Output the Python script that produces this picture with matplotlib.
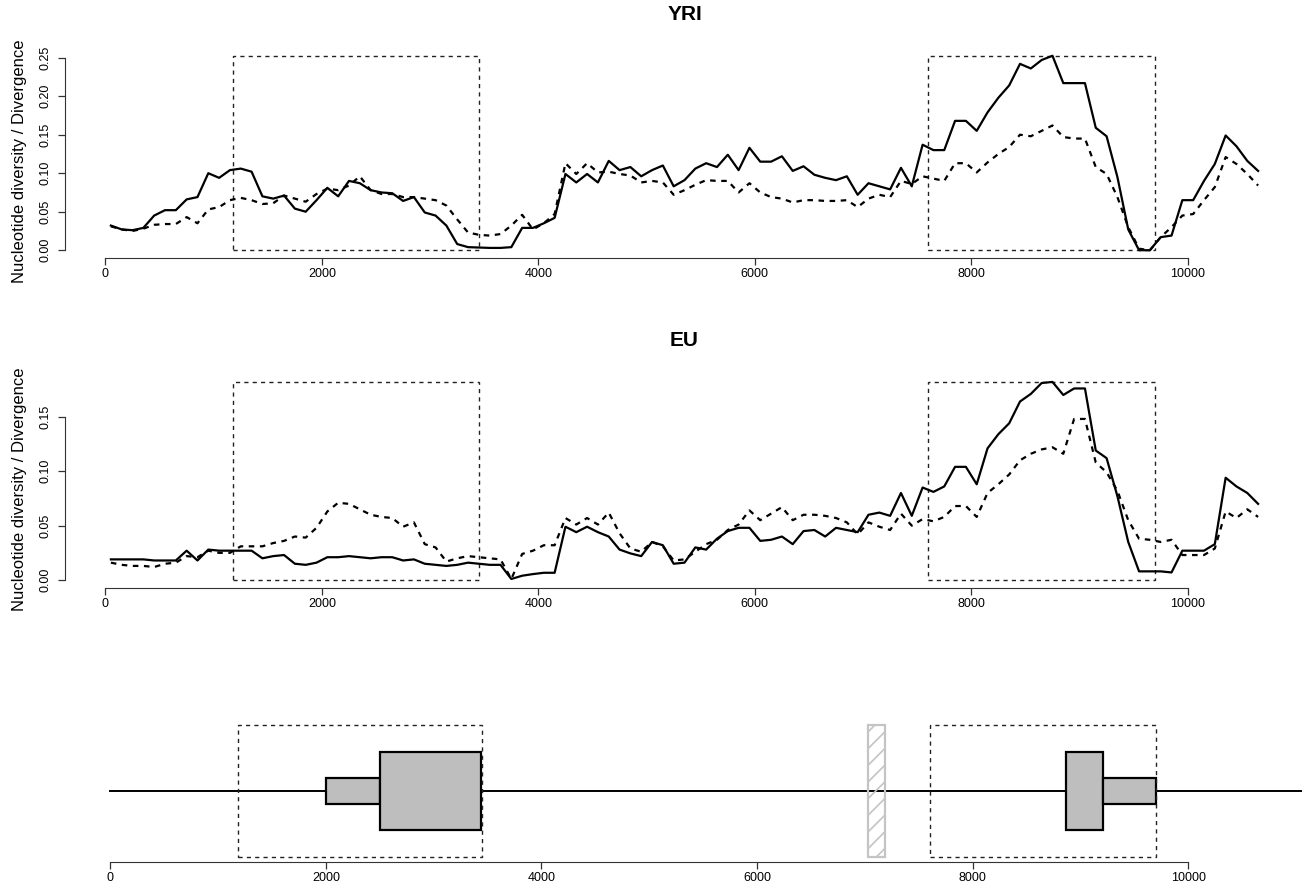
import matplotlib
matplotlib.use('Agg')
import matplotlib.pyplot as plt
from matplotlib.patches import Rectangle
from matplotlib.ticker import FormatStrFormatter

plt.rcParams['font.family'] = ['Liberation Sans', 'DejaVu Sans']
plt.rcParams['hatch.linewidth'] = 1.2

# sliding window midpoints (bp)
window_mid = list(range(50, 10700, 100))

yri_pi = [0.032, 0.027, 0.026, 0.029, 0.045, 0.052, 0.052, 0.066, 0.069, 0.100,
          0.094, 0.104, 0.106, 0.102, 0.070, 0.067, 0.071, 0.054, 0.050, 0.065,
          0.081, 0.070, 0.090, 0.087, 0.078, 0.075, 0.074, 0.064, 0.069, 0.049,
          0.045, 0.032, 0.008, 0.004, 0.0035, 0.003, 0.003, 0.004, 0.029, 0.029,
          0.035, 0.042, 0.099, 0.088, 0.099, 0.088, 0.116, 0.104, 0.108, 0.096,
          0.104, 0.110, 0.083, 0.091, 0.106, 0.113, 0.108, 0.124, 0.104, 0.133,
          0.115, 0.115, 0.122, 0.103, 0.109, 0.098, 0.094, 0.091, 0.096, 0.072,
          0.087, 0.083, 0.079, 0.107, 0.083, 0.137, 0.130, 0.130, 0.168, 0.168,
          0.155, 0.179, 0.198, 0.214, 0.242, 0.236, 0.247, 0.2525, 0.217, 0.217,
          0.217, 0.159, 0.148, 0.095, 0.027, 0.000, 0.000, 0.017, 0.019, 0.065,
          0.065, 0.090, 0.112, 0.149, 0.135, 0.116, 0.103]
yri_div = [0.031, 0.027, 0.025, 0.028, 0.033, 0.034, 0.034, 0.043, 0.035, 0.053,
           0.056, 0.065, 0.068, 0.065, 0.060, 0.061, 0.071, 0.067, 0.063, 0.073,
           0.080, 0.078, 0.084, 0.096, 0.078, 0.073, 0.073, 0.069, 0.069, 0.067,
           0.065, 0.058, 0.040, 0.023, 0.020, 0.019, 0.021, 0.032, 0.046, 0.027,
           0.035, 0.047, 0.113, 0.099, 0.113, 0.101, 0.102, 0.099, 0.097, 0.088,
           0.090, 0.088, 0.072, 0.078, 0.085, 0.091, 0.090, 0.090, 0.075, 0.087,
           0.075, 0.069, 0.067, 0.062, 0.065, 0.065, 0.064, 0.064, 0.065, 0.056,
           0.067, 0.072, 0.069, 0.090, 0.086, 0.096, 0.093, 0.090, 0.113, 0.113,
           0.101, 0.114, 0.125, 0.134, 0.150, 0.148, 0.155, 0.162, 0.147, 0.145,
           0.145, 0.108, 0.099, 0.069, 0.030, 0.002, 0.000, 0.017, 0.030, 0.045,
           0.047, 0.065, 0.082, 0.121, 0.112, 0.099, 0.084]
eu_pi = [0.019, 0.019, 0.019, 0.019, 0.018, 0.018, 0.018, 0.027, 0.018, 0.028,
         0.027, 0.027, 0.027, 0.027, 0.020, 0.022, 0.023, 0.015, 0.014, 0.016,
         0.021, 0.021, 0.022, 0.021, 0.020, 0.021, 0.021, 0.018, 0.019, 0.015,
         0.014, 0.013, 0.014, 0.016, 0.015, 0.014, 0.014, 0.001, 0.004, 0.0055,
         0.0067, 0.0067, 0.049, 0.044, 0.049, 0.044, 0.040, 0.028, 0.0245, 0.022,
         0.035, 0.032, 0.015, 0.016, 0.030, 0.028, 0.038, 0.045, 0.048, 0.048,
         0.036, 0.037, 0.040, 0.033, 0.045, 0.046, 0.040, 0.048, 0.046, 0.044,
         0.060, 0.062, 0.059, 0.080, 0.059, 0.085, 0.081, 0.086, 0.104, 0.104,
         0.088, 0.121, 0.134, 0.144, 0.164, 0.171, 0.181, 0.182, 0.170, 0.176,
         0.176, 0.119, 0.112, 0.077, 0.035, 0.008, 0.008, 0.008, 0.007, 0.027,
         0.027, 0.027, 0.033, 0.094, 0.086, 0.080, 0.070]
eu_div = [0.016, 0.014, 0.013, 0.013, 0.012, 0.015, 0.016, 0.022, 0.021, 0.027,
          0.025, 0.025, 0.031, 0.031, 0.031, 0.034, 0.036, 0.040, 0.039, 0.048,
          0.063, 0.071, 0.070, 0.065, 0.060, 0.058, 0.057, 0.049, 0.053, 0.033,
          0.030, 0.017, 0.020, 0.022, 0.021, 0.020, 0.019, 0.001, 0.024, 0.027,
          0.032, 0.032, 0.057, 0.051, 0.057, 0.051, 0.062, 0.043, 0.029, 0.026,
          0.035, 0.031, 0.018, 0.019, 0.026, 0.033, 0.037, 0.046, 0.051, 0.064,
          0.055, 0.061, 0.067, 0.055, 0.060, 0.060, 0.059, 0.057, 0.053, 0.042,
          0.053, 0.049, 0.046, 0.061, 0.050, 0.056, 0.054, 0.058, 0.068, 0.068,
          0.058, 0.080, 0.088, 0.097, 0.110, 0.116, 0.120, 0.122, 0.116, 0.148,
          0.148, 0.108, 0.099, 0.082, 0.055, 0.038, 0.037, 0.035, 0.037, 0.023,
          0.023, 0.023, 0.029, 0.063, 0.057, 0.065, 0.058]

# highlighted regions (dashed boxes)
region_start = [1180, 7600]
region_end = [3450, 9700]

# gene model
gene_span = [0, 11300]
feature_start = [2000, 2500, 8870, 9210]
feature_end = [2500, 3440, 9210, 9700]
feature_kind = ['utr', 'cds', 'cds', 'utr']
masked_start = 7030
masked_end = 7190

x_ticks = [0, 2000, 4000, 6000, 8000, 10000]
y_label = 'Nucleotide diversity / Divergence'

W, H = 1302, 892
XLIM = (-374, 11074)
AXIS_COL = '#333333'
TICK_FS = 9


def add_px_axes(fig, left, right, top, bottom):
    return fig.add_axes([left / W, 1 - bottom / H, (right - left) / W, (bottom - top) / H])


def r_style(ax):
    for s in ['top', 'right']:
        ax.spines[s].set_visible(False)
    ax.spines['bottom'].set_bounds(x_ticks[0], x_ticks[-1])
    ax.spines['bottom'].set_color(AXIS_COL)
    ax.spines['left'].set_color(AXIS_COL)
    ax.set_xlim(*XLIM)
    ax.set_xticks(x_ticks)
    ax.tick_params(axis='x', direction='out', length=5, width=0.9, color=AXIS_COL,
                   labelsize=TICK_FS, pad=2)


def diversity_panel(fig, top, bottom, title, pi, div, yticks):
    ax = add_px_axes(fig, 65, 1304, top, bottom)
    r_style(ax)
    ymax = max(max(pi), max(div))
    ax.set_ylim(-0.04 * ymax, 1.04 * ymax)
    ax.set_yticks(yticks)
    ax.spines['left'].set_bounds(yticks[0], yticks[-1])
    ax.yaxis.set_major_formatter(FormatStrFormatter('%.2f'))
    ax.tick_params(axis='y', direction='out', length=5, width=0.9, color=AXIS_COL,
                   labelsize=TICK_FS, pad=5, labelrotation=90)
    for lab in ax.get_yticklabels():
        lab.set_verticalalignment('center')
    ax.set_ylabel(y_label, fontsize=12)
    ax.yaxis.set_label_coords(-0.031, 0.5 - 8 / (bottom - top))

    for s, e in zip(region_start, region_end):
        ax.add_patch(Rectangle((s, 0), e - s, ymax, fill=False, edgecolor='#222222',
                               lw=1.0, ls=(0, (3, 3))))
    ax.plot(window_mid, pi, color='black', lw=1.6)
    ax.plot(window_mid, div, color='black', lw=1.6, ls=(0, (2.5, 2.5)))
    fig.text(684.5 / W, 1 - (top - 34) / H, title, ha='center', va='center',
             fontsize=15, fontweight='bold')
    return ax


fig = plt.figure(figsize=(W / 100, H / 100), dpi=100)

diversity_panel(fig, 48, 258, 'YRI', yri_pi, yri_div, [0, 0.05, 0.10, 0.15, 0.20, 0.25])
diversity_panel(fig, 374, 588, 'EU', eu_pi, eu_div, [0, 0.05, 0.10, 0.15])

# gene structure panel
half = {'utr': 1, 'cds': 3}
box_half = 5
ax = add_px_axes(fig, 70, 1304, 720, 862)
r_style(ax)
ax.spines['left'].set_visible(False)
ax.set_yticks([])
ax.set_ylim(-1.08 * box_half, 1.08 * box_half)
ax.plot(gene_span, [0, 0], color='black', lw=1.4, zorder=1)
for s, e, k in zip(feature_start, feature_end, feature_kind):
    h = half[k]
    ax.add_patch(Rectangle((s, -h), e - s, 2 * h, facecolor='#bebebe', edgecolor='black',
                           lw=1.6, zorder=2))
ax.add_patch(Rectangle((masked_start, -box_half), masked_end - masked_start, 2 * box_half,
                       fill=False, edgecolor='#c4c4c4', hatch='//', lw=1.6, zorder=3))
for s, e in zip(region_start, region_end):
    ax.add_patch(Rectangle((s, -box_half), e - s, 2 * box_half, fill=False,
                           edgecolor='#222222', lw=1.0, ls=(0, (3, 3)), zorder=4))

fig.savefig('out.png', dpi=100)
